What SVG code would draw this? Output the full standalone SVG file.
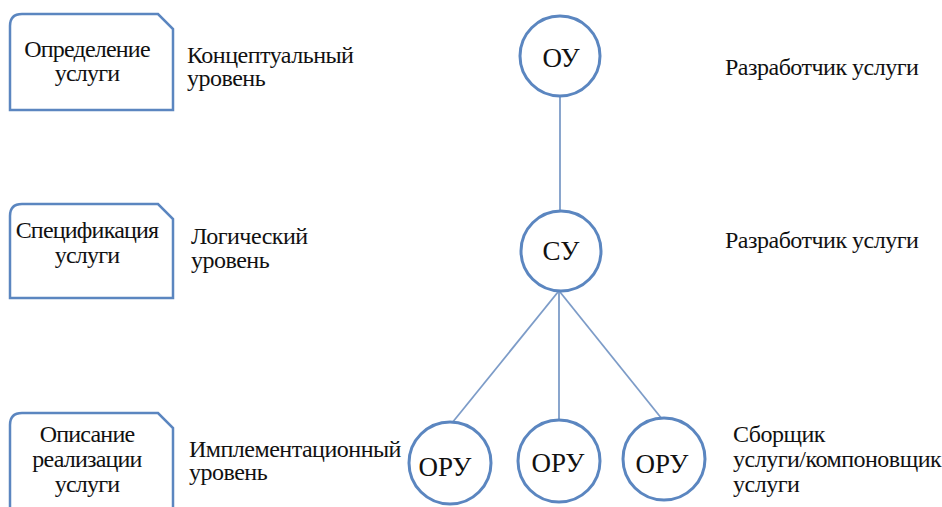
<svg xmlns="http://www.w3.org/2000/svg" width="942" height="507" viewBox="0 0 942 507">
<style>
.box{fill:#fff;stroke:#5b86c0;stroke-width:2.5}
.node{fill:#fff;stroke:#5b86c0;stroke-width:3}
.conn{stroke:#7d9cc8;stroke-width:1.8;fill:none}
text{font-family:'Liberation Serif','Times New Roman',serif;fill:#111;font-size:24px;letter-spacing:-0.5px}
.c{text-anchor:middle;letter-spacing:-0.8px}
.n{text-anchor:middle;font-size:27px;letter-spacing:0}
</style>
<rect width="942" height="507" fill="#fff"/>
<g id="connectors">
<line class="conn" x1="560" y1="97" x2="560" y2="211"/>
<line class="conn" x1="558" y1="292" x2="452" y2="423"/>
<line class="conn" x1="559" y1="292" x2="559" y2="420"/>
<line class="conn" x1="560" y1="292" x2="662" y2="419"/>
</g>
<g id="box-def">
<path class="box" d="M10,110 L10,26 Q10,14 22,14 L158,14 L173,29 L173,110 Z"/>
<text class="c" x="87" y="57">Определение</text>
<text class="c" x="87" y="81">услуги</text>
</g>
<g id="box-spec">
<path class="box" d="M10,298 L10,216 Q10,204 22,204 L158,204 L173,219 L173,298 Z"/>
<text class="c" x="87" y="238">Спецификация</text>
<text class="c" x="87" y="263">услуги</text>
</g>
<g id="box-impl">
<path class="box" d="M10,512 L10,425 Q10,413 22,413 L158,413 L173,428 L173,512 Z"/>
<text class="c" x="87" y="442">Описание</text>
<text class="c" x="87" y="467">реализации</text>
<text class="c" x="87" y="492">услуги</text>
</g>
<g id="label-concept">
<text x="187" y="63">Концептуальный</text>
<text x="187" y="86">уровень</text>
</g>
<g id="label-logic">
<text x="191" y="244">Логический</text>
<text x="191" y="268">уровень</text>
</g>
<g id="label-impl">
<text x="189" y="457">Имплементационный</text>
<text x="189" y="480">уровень</text>
</g>
<g id="node-OU">
<circle class="node" cx="560" cy="56" r="40"/>
<text class="n" x="561" y="67">ОУ</text>
</g>
<g id="node-SU">
<circle class="node" cx="561" cy="251" r="40"/>
<text class="n" x="561" y="260">СУ</text>
</g>
<g id="node-ORU1">
<circle class="node" cx="450" cy="463" r="41"/>
<text class="n" x="445" y="476">ОРУ</text>
</g>
<g id="node-ORU2">
<circle class="node" cx="559" cy="461" r="41"/>
<text class="n" x="558" y="472">ОРУ</text>
</g>
<g id="node-ORU3">
<circle class="node" cx="664" cy="459" r="41"/>
<text class="n" x="662" y="473">ОРУ</text>
</g>
<g id="label-dev1">
<text x="725" y="75">Разработчик услуги</text>
</g>
<g id="label-dev2">
<text x="725" y="248">Разработчик услуги</text>
</g>
<g id="label-assembler">
<text x="733" y="442">Сборщик</text>
<text x="733" y="467">услуги/компоновщик</text>
<text x="733" y="492">услуги</text>
</g>
</svg>
